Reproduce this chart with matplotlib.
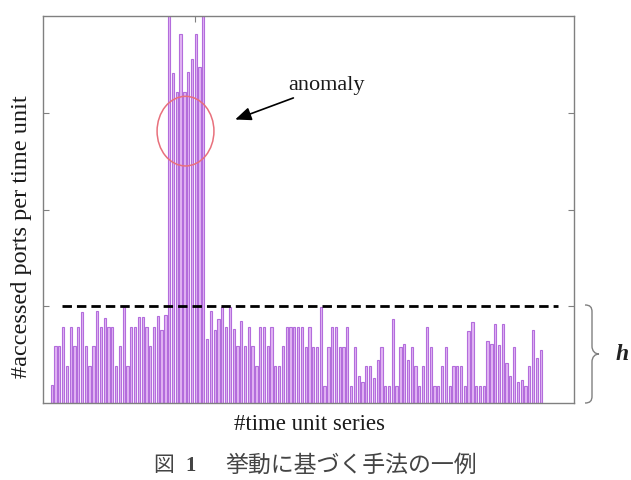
import matplotlib
matplotlib.use("Agg")
import matplotlib.pyplot as plt
from matplotlib.patches import Ellipse, PathPatch
from matplotlib.path import Path
import numpy as np

# ---- data ----
before = [0.19, 0.59, 0.59, 0.79, 0.38, 0.79, 0.59, 0.79, 0.94, 0.59,
          0.38, 0.59, 0.95, 0.79, 0.88, 0.79, 0.79, 0.38, 0.59, 0.99,
          0.38, 0.79, 0.79, 0.89, 0.89, 0.79, 0.59, 0.79, 0.90, 0.75,
          0.91]
anomaly = [4.5, 3.41, 3.21, 3.81, 3.21, 3.42, 3.56, 3.81, 3.47, 4.5]
after = [0.66, 0.95, 0.75, 0.87, 0.99, 0.79, 0.99, 0.77, 0.59, 0.85,
         0.59, 0.79, 0.59, 0.38, 0.79, 0.79, 0.59, 0.79, 0.38, 0.38,
         0.59, 0.79, 0.79, 0.79, 0.79,
         0.79, 0.58, 0.79, 0.58, 0.58, 0.99, 0.18, 0.58, 0.79, 0.79,
         0.58, 0.58, 0.79, 0.18, 0.58, 0.28, 0.22, 0.38, 0.38, 0.26,
         0.44, 0.58, 0.18, 0.18, 0.87, 0.18, 0.58, 0.61, 0.44, 0.58,
         0.38, 0.18, 0.38, 0.79, 0.58, 0.18, 0.18, 0.38, 0.58, 0.18,
         0.38, 0.38, 0.38, 0.18, 0.74, 0.84, 0.18, 0.18, 0.18, 0.64,
         0.61, 0.82, 0.60, 0.82, 0.41, 0.28, 0.58, 0.22, 0.24, 0.18,
         0.38, 0.75, 0.47, 0.55]
ports = before + anomaly + after
threshold_h = 1.0
y_ticks = [1, 2, 3]

xlabel = "#time unit series"
ylabel = "#accessed ports per time unit"
note = "anomaly"
caption_fig = "図"
caption_num = "1"
caption_txt = "挙動に基づく手法の一例"

W, H = 631, 480
fig = plt.figure(figsize=(W / 100, H / 100), dpi=100)
L, R, T, B = 43, 574, 16, 403
ax = fig.add_axes([L / W, 1 - B / H, (R - L) / W, (B - T) / H])

x = np.arange(len(ports))
ax.bar(x, ports, width=0.6, color="#e2b6f4", edgecolor="#b36ddc",
       linewidth=0.8, zorder=2)

ax.set_xlim(-2.3, 137.8)
ax.set_ylim(0, 4)

ax.hlines(threshold_h, 2.6, 133.6, colors="black", linestyles=(0, (3.4, 1.8)),
          linewidth=2.0, zorder=3)

for s in ax.spines.values():
    s.set_color("#808080")
    s.set_linewidth(1.0)

ax.set_yticks(y_ticks)
ax.set_yticklabels([])
ax.set_xticks([37.8])
ax.set_xticklabels([])
ax.tick_params(axis="y", direction="in", length=4, color="#808080",
               left=True, right=True)
ax.tick_params(axis="x", direction="in", length=4, color="#808080",
               top=True, bottom=False)

ell = Ellipse((35.3, 2.81), 15.0, 0.72, fill=False, edgecolor="#e8707c",
              linewidth=1.1, zorder=4)
ax.add_patch(ell)

ax.annotate(note, xy=(48.4, 2.93), xytext=(62.4, 3.28),
            fontsize=16, family="Liberation Serif", color="#1a1a1a",
            va="center", ha="left",
            arrowprops=dict(arrowstyle="-|>,head_length=0.6,head_width=0.25",
                            color="black", lw=1.2, shrinkA=0, shrinkB=0))

fig.text(309 / W, 1 - 425 / H, xlabel, fontsize=16.5, family="Liberation Serif",
         color="#1a1a1a", ha="center", va="center")
fig.text(22 / W, 1 - 237 / H, ylabel, fontsize=17.5, family="Liberation Serif",
         color="#1a1a1a", ha="center", va="center", rotation=90)

# brace on the right
pts = [(585, 305), (590, 305), (592, 307), (592, 312),
       (592, 346),
       (592, 351), (595, 354), (599, 354),
       (595, 354), (592, 357), (592, 362),
       (592, 396),
       (592, 401), (590, 403), (585, 403)]
codes = [Path.MOVETO, Path.CURVE4, Path.CURVE4, Path.CURVE4,
         Path.LINETO,
         Path.CURVE4, Path.CURVE4, Path.CURVE4,
         Path.CURVE4, Path.CURVE4, Path.CURVE4,
         Path.LINETO,
         Path.CURVE4, Path.CURVE4, Path.CURVE4]
verts = [(px / W, 1 - py / H) for px, py in pts]
brace = PathPatch(Path(verts, codes), transform=fig.transFigure, fill=False,
                  edgecolor="#808080", linewidth=1.0)
fig.patches.append(brace)
fig.text(622 / W, 1 - 354 / H, "h", fontsize=17, family="Liberation Serif",
         style="italic", weight="bold", color="#222222", ha="center", va="center")

cap_font = ["Noto Sans CJK JP", "DejaVu Sans"]
fig.text(164 / W, 1 - 465 / H, caption_fig, fontsize=15, family=cap_font,
         color="#444444", ha="center", va="center")
fig.text(191 / W, 1 - 466 / H, caption_num, fontsize=15, family="Liberation Serif",
         weight="bold", color="#444444", ha="center", va="center")
fig.text(225 / W, 1 - 465 / H, caption_txt, fontsize=16.5, family=cap_font,
         color="#444444", ha="left", va="center")

fig.savefig("out.png", dpi=100)
